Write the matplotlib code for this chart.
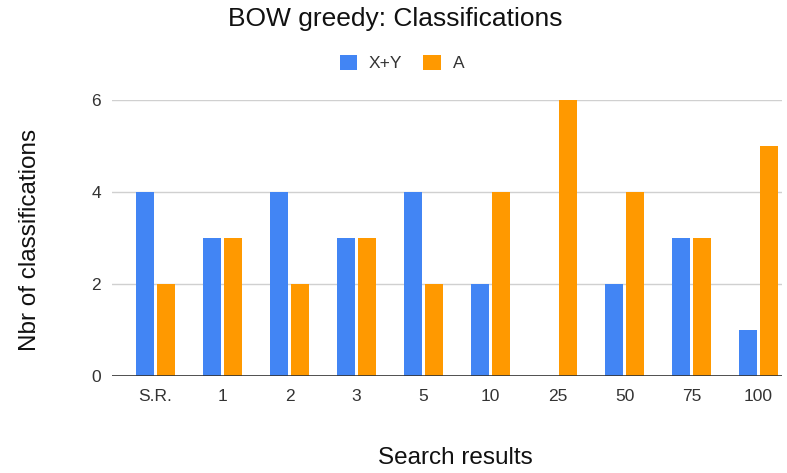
import matplotlib
matplotlib.use("Agg")
import matplotlib.pyplot as plt
import numpy as np

categories = ["S.R.", "1", "2", "3", "5", "10", "25", "50", "75", "100"]
xy_values = [4, 3, 4, 3, 4, 2, 0, 2, 3, 1]
a_values = [2, 3, 2, 3, 2, 4, 6, 4, 3, 5]
y_ticks = [0, 2, 4, 6]

plt.rcParams['font.family'] = ['Liberation Sans', 'DejaVu Sans']

W, H = 787, 473
fig = plt.figure(figsize=(W / 100, H / 100), dpi=100)
ax = fig.add_axes([112 / W, (H - 376) / H, (782 - 112) / W, (376 - 100) / H])

blue = "#4285F4"
orange = "#FF9900"
x = np.arange(len(categories))
bw = 0.27
gap = 0.045
ax.bar(x - (bw + gap) / 2, xy_values, bw, color=blue, label="X+Y", zorder=3)
ax.bar(x + (bw + gap) / 2, a_values, bw, color=orange, label="A", zorder=3)

ax.set_xlim(-0.65, 9.35)
ax.set_ylim(0, 6)
ax.set_yticks(y_ticks)
ax.set_xticks(x)
ax.set_xticklabels(categories)
ax.tick_params(axis='both', length=0, labelsize=12.5, colors="#333333")
ax.tick_params(axis='x', pad=9)
ax.tick_params(axis='y', pad=8)
ax.grid(axis='y', color="#d0d0d0", linewidth=1, zorder=0)
for s in ax.spines.values():
    s.set_visible(False)
ax.axhline(0, color="#333333", linewidth=1.2, zorder=4)

fig.text(395 / W, 1 - 19 / H, "BOW greedy: Classifications", ha='center', va='center',
         fontsize=19, color="#111111")
fig.text(30 / W, 1 - 240 / H, "Nbr of classifications", ha='center', va='center',
         rotation=90, fontsize=17.5, color="#111111")
fig.text(455 / W, 1 - 458 / H, "Search results", ha='center', va='center',
         fontsize=17.5, color="#111111")

fig.legend(loc='center', bbox_to_anchor=(402 / W, 1 - 63 / H), ncol=2, frameon=False,
           handlelength=1.0, handleheight=1.0, columnspacing=1.2, handletextpad=0.7,
           fontsize=12.5, labelcolor="#333333")

fig.savefig("out.png", dpi=100)
